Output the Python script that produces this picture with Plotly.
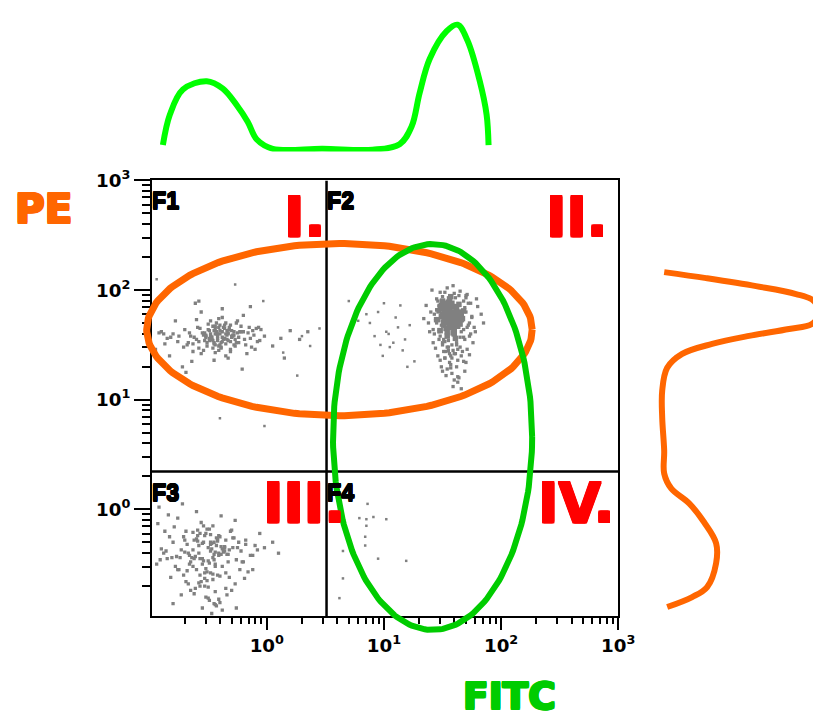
import numpy as np
import plotly.graph_objects as go

# ---------------- data (log10 fluorescence values) ----------------
f1_log_fitc = [-0.42,-0.38,-0.47,-0.35,-0.51,-0.44,-0.30,-0.40,-0.55,-0.33,-0.46,-0.28,-0.39,-0.49,-0.36,-0.43,-0.58,-0.25,-0.41,-0.37,
               -0.45,-0.32,-0.52,-0.27,-0.48,-0.34,-0.40,-0.62,-0.22,-0.44,-0.31,-0.53,-0.38,-0.46,-0.29,-0.57,-0.35,-0.42,-0.50,-0.24,
               -0.66,-0.19,-0.71,-0.15,-0.60,-0.33,-0.75,-0.12,-0.68,-0.20,-0.80,-0.10,-0.64,-0.26,-0.85,-0.08,-0.56,-0.17,-0.90,-0.05,
               -0.47,-0.39,-0.30,-0.54,-0.43,-0.36,-0.49,-0.41,-0.28,-0.59,-0.34,-0.45,-0.38,-0.52,-0.23,-0.63,-0.31,-0.44,-0.37,-0.48,
               -0.72,-0.02,-0.78,0.05,-0.83,-0.14,-0.92,0.12,-0.69,-0.07,-0.87,0.20,-0.61,0.28,-0.74,0.35,-0.95,-0.21,-0.58,0.15,
               -0.36,-0.44,-0.31,-0.48,-0.40,-0.27,-0.52,-0.35,-0.43,-0.38,-0.46,-0.33,-0.41,-0.29,-0.50,-0.37,-0.45,-0.32,-0.42,-0.39,
               -0.34,-0.47,-0.26,-0.53,-0.40,-0.30,-0.44,-0.36,-0.49,-0.28,-0.42,-0.35,-0.54,-0.31,-0.45,-0.38,-0.24,-0.51,-0.41,-0.33,
               -0.60,-0.20,-0.65,-0.18,-0.70,-0.14,-0.58,-0.22,-0.76,-0.11,-0.63,-0.16,-0.82,-0.09,-0.67,-0.25,-0.88,-0.06,-0.56,-0.13]
f1_log_pe = [1.58,1.62,1.55,1.60,1.52,1.65,1.57,1.50,1.61,1.54,1.67,1.59,1.48,1.63,1.56,1.70,1.53,1.61,1.45,1.66,
             1.51,1.64,1.58,1.49,1.72,1.55,1.60,1.57,1.62,1.43,1.68,1.54,1.75,1.47,1.59,1.65,1.40,1.56,1.69,1.52,
             1.61,1.55,1.48,1.66,1.73,1.38,1.58,1.63,1.50,1.77,1.60,1.46,1.35,1.70,1.56,1.53,1.80,1.42,1.62,1.64,
             1.57,1.52,1.63,1.45,1.60,1.68,1.54,1.74,1.50,1.66,1.59,1.36,1.83,1.57,1.62,1.51,1.44,1.67,1.55,1.60,
             1.30,1.58,1.72,1.49,1.40,1.85,1.61,1.56,1.25,1.66,1.51,1.63,1.88,1.55,1.20,1.62,1.46,1.28,1.90,1.38,
             1.56,1.60,1.53,1.58,1.63,1.55,1.59,1.51,1.62,1.57,1.54,1.61,1.49,1.58,1.64,1.55,1.52,1.66,1.60,1.47,
             1.63,1.57,1.52,1.61,1.68,1.58,1.50,1.65,1.56,1.62,1.54,1.70,1.59,1.46,1.63,1.53,1.57,1.49,1.66,1.60,
             1.55,1.62,1.58,1.50,1.64,1.56,1.47,1.67,1.53,1.59,1.44,1.61,1.57,1.65,1.52,1.72,1.60,1.54,1.42,1.48]

f2_core_log_fitc = [1.57,1.52,1.62,1.55,1.60,1.49,1.65,1.54,1.58,1.63,1.51,1.56,1.61,1.47,1.59,1.66,1.53,1.57,1.50,1.64,
                    1.55,1.60,1.48,1.62,1.58,1.52,1.67,1.54,1.59,1.56,1.61,1.50,1.63,1.57,1.53,1.68,1.46,1.60,1.55,1.58,
                    1.62,1.51,1.56,1.64,1.49,1.59,1.54,1.61,1.57,1.52,1.65,1.55,1.60,1.48,1.63,1.58,1.53,1.66,1.56,1.51,
                    1.59,1.62,1.54,1.57,1.50,1.61,1.55,1.64,1.52,1.58]
f2_core_log_pe = [1.78,1.82,1.75,1.70,1.85,1.76,1.80,1.88,1.72,1.79,1.68,1.83,1.74,1.81,1.66,1.77,1.86,1.71,1.90,1.73,
                  1.79,1.64,1.84,1.69,1.76,1.87,1.74,1.62,1.80,1.92,1.71,1.78,1.67,1.85,1.75,1.81,1.73,1.60,1.89,1.77,
                  1.83,1.70,1.66,1.78,1.86,1.72,1.58,1.80,1.94,1.74,1.69,1.82,1.76,1.63,1.79,1.88,1.65,1.75,1.84,1.71,
                  1.61,1.77,1.80,1.68,1.83,1.56,1.73,1.87,1.79,1.70]
f2_halo_log_fitc = [1.40,1.75,1.45,1.72,1.38,1.80,1.43,1.70,1.48,1.78,1.36,1.69,1.50,1.83,1.42,1.74,1.55,1.65,1.46,1.77,
                    1.60,1.52,1.68,1.44,1.73,1.57,1.49,1.63,1.39,1.71,1.54,1.66,1.47,1.76,1.58,1.62,1.51,1.69,1.45,1.64,
                    1.56,1.60,1.53,1.67,1.48,1.59,1.63,1.50,1.70,1.55,1.61,1.44,1.66,1.58,1.52,1.73,1.47,1.62,1.57,1.68,
                    1.34,1.85,1.41,1.79,1.54,1.65,1.59,1.49,1.71,1.63,
                    1.44,1.70,1.47,1.73,1.42,1.68,1.50,1.75,1.45,1.66,1.52,1.71,1.48,1.64,1.43,1.69,1.55,1.62,1.46,1.74,
                    1.58,1.51,1.67,1.49,1.72,1.54,1.63,1.47,1.60,1.53,1.65,1.56,1.61,1.50,1.68,1.57,1.45,1.70,1.59,1.52]
f2_halo_log_pe = [1.80,1.75,1.92,1.68,1.70,1.85,1.60,1.95,1.98,1.62,1.86,1.55,1.50,1.78,1.52,1.88,1.45,1.48,1.40,1.66,
                  1.42,1.38,1.35,1.72,1.58,1.32,1.30,1.36,1.62,1.46,1.28,1.40,1.55,1.52,1.24,1.30,1.44,1.26,1.82,1.20,
                  1.34,1.18,1.22,1.44,1.36,1.12,1.16,1.26,1.34,1.48,1.42,1.47,1.10,1.38,1.53,1.41,1.64,1.50,1.29,1.57,
                  1.74,1.70,2.00,1.92,2.02,1.99,2.04,1.90,1.96,1.21,
                  1.74,1.80,1.86,1.70,1.64,1.90,1.94,1.76,1.82,1.62,1.98,1.66,1.58,1.95,1.78,1.84,1.54,1.52,1.90,1.60,
                  1.50,1.55,1.72,1.68,1.88,1.48,1.46,1.62,1.97,1.44,1.57,1.42,1.93,1.52,1.64,1.40,1.70,1.93,1.45,1.38]
f2_sparse_log_fitc = [0.95,1.02,1.10,0.88,1.18,1.05,0.92,1.14,1.22,0.99,1.08,1.26,0.85,1.12,1.00,1.20,0.78,1.16,1.04,0.97]
f2_sparse_log_pe = [1.80,1.62,1.75,1.70,1.55,1.48,1.58,1.86,1.68,1.40,1.52,1.35,1.78,1.66,1.88,1.30,1.72,1.45,1.60,1.50]

f3_log_fitc = [-0.50,-0.45,-0.58,-0.40,-0.62,-0.48,-0.35,-0.55,-0.43,-0.66,-0.52,-0.38,-0.60,-0.47,-0.31,-0.70,-0.54,-0.42,-0.57,-0.36,
               -0.49,-0.64,-0.44,-0.28,-0.73,-0.51,-0.39,-0.59,-0.46,-0.33,-0.68,-0.53,-0.41,-0.77,-0.25,-0.56,-0.48,-0.37,-0.63,-0.44,
               -0.80,-0.22,-0.85,-0.18,-0.75,-0.30,-0.90,-0.14,-0.82,-0.27,-0.94,-0.10,-0.71,-0.20,-0.88,-0.06,-0.67,-0.16,-0.79,-0.02,
               -0.52,-0.46,-0.40,-0.61,-0.55,-0.34,-0.49,-0.58,-0.43,-0.65,-0.38,-0.50,-0.57,-0.45,-0.32,-0.62,-0.47,-0.53,-0.41,-0.69,
               -0.84,-0.26,-0.92,0.05,-0.76,-0.12,-0.87,0.10,-0.72,-0.19,-0.93,-0.08,-0.60,-0.35,-0.66,-0.44,-0.54,-0.29,-0.81,-0.39,
               -0.48,-0.57,-0.63,-0.42,-0.51,-0.70,-0.36,-0.59,-0.45,-0.23,
               -0.47,-0.55,-0.41,-0.60,-0.50,-0.44,-0.58,-0.38,-0.53,-0.46,-0.63,-0.42,-0.51,-0.36,-0.57,-0.49,-0.67,-0.40,-0.54,-0.45,
               -0.52,-0.43,-0.61,-0.37,-0.56,-0.48,-0.65,-0.34,-0.59,-0.46,-0.50,-0.39,-0.62,-0.44,-0.55,-0.32,-0.68,-0.48,-0.53,-0.41,
               -0.74,-0.29,-0.78,-0.24,-0.71,-0.33,-0.83,-0.21,-0.86,-0.27,-0.76,-0.18,-0.91,-0.30,-0.69,-0.12,-0.80,-0.35,-0.73,-0.26]
f3_log_pe = [-0.35,-0.30,-0.40,-0.25,-0.45,-0.38,-0.28,-0.50,-0.33,-0.42,-0.22,-0.36,-0.55,-0.31,-0.20,-0.39,-0.47,-0.27,-0.60,-0.34,
             -0.18,-0.44,-0.52,-0.26,-0.37,-0.65,-0.41,-0.29,-0.15,-0.48,-0.32,-0.70,-0.24,-0.43,-0.35,-0.12,-0.58,-0.39,-0.21,-0.75,
             -0.30,-0.38,-0.45,-0.28,-0.55,-0.19,-0.36,-0.42,-0.62,-0.10,-0.50,-0.33,-0.25,-0.48,-0.40,-0.22,-0.68,-0.57,-0.16,-0.35,
             -0.80,-0.64,-0.85,-0.72,-0.90,-0.78,-0.83,-0.67,-0.88,-0.74,-0.92,-0.81,-0.70,-0.86,-0.62,-0.77,-0.95,-0.58,-0.82,-0.66,
             -0.05,-0.46,0.02,-0.30,-0.08,-0.55,-0.20,-0.40,0.05,-0.63,-0.13,-0.37,-0.02,-0.72,-0.50,-0.87,-0.15,-0.26,-0.44,-0.06,
             -0.30,-0.45,-0.52,-0.60,-0.18,-0.28,-0.38,-0.24,-0.41,-0.55,
             -0.36,-0.31,-0.42,-0.27,-0.47,-0.39,-0.33,-0.52,-0.24,-0.44,-0.37,-0.29,-0.57,-0.35,-0.22,-0.49,-0.40,-0.61,-0.30,-0.46,
             -0.54,-0.26,-0.43,-0.38,-0.66,-0.32,-0.48,-0.41,-0.19,-0.59,-0.71,-0.34,-0.28,-0.50,-0.45,-0.37,-0.56,-0.23,-0.63,-0.40,
             -0.44,-0.35,-0.52,-0.30,-0.60,-0.41,-0.25,-0.48,-0.38,-0.68,-0.55,-0.32,-0.46,-0.74,-0.20,-0.42,-0.86,-0.58,-0.78,-0.90]

f4_log_fitc = [0.86,0.79,0.85,0.91,0.85,1.02,0.84,0.84,0.65,0.95,1.19,0.65,0.62]
f4_log_pe = [0.05,-0.08,-0.09,-0.07,-0.15,-0.09,-0.25,-0.33,-0.38,-0.45,-0.47,-0.63,-0.81]

other_log_fitc = [0.30,0.37,0.26,0.14,-0.94,-0.27,-0.03,-0.02,-0.40,0.45,0.70]
other_log_pe = [1.58,1.49,1.22,1.43,2.10,2.05,1.90,0.76,0.83,1.65,1.90]

# quadrant gates (log10)
quad_log_fitc = 0.51
quad_log_pe = 0.345

# elliptical gates: centre and semi-axes in log10 units
gate_pe_centre = (0.62, 1.64)
gate_pe_radii = (1.645, 0.786)
gate_fitc_centre = (1.415, 0.66)
gate_fitc_radii = (0.85, 1.76)

# FITC histogram outline (log10 FITC, relative count)
hist_fitc_log = [-0.887,-0.827,-0.716,-0.512,-0.375,-0.256,-0.162,-0.085,0.051,0.477,0.904,1.134,1.236,1.304,1.39,1.535,1.628,1.713,1.816,1.876,1.893]
hist_fitc_count = [7,40,67,76,68,50,32,13,3,3,2,8,27,63,100,130,137,120,77,40,7]

# PE histogram outline (log10 PE, relative count)
hist_pe_log = [2.164,2.109,2.036,1.964,1.9,1.791,1.691,1.645,1.582,1.509,1.418,1.291,1.082,0.836,0.536,0.327,0.191,0.055,-0.118,-0.309,-0.491,-0.709,-0.8,-0.891]
hist_pe_count = [10,52,102,142,160,165,158,135,95,58,28,13,8,8,10,10,17,35,50,62,62,53,38,13]

decade_exps = [0, 1, 2, 3]
decade_labels = ["<b>10<sup>0</sup></b>", "<b>10<sup>1</sup></b>", "<b>10<sup>2</sup></b>", "<b>10<sup>3</sup></b>"]
quadrant_names = ["F1", "F2", "F3", "F4"]
region_names = ["I.", "II.", "III.", "IV."]

# ---------------- layout geometry ----------------
# target positions are given in window pixels; the page shows the figure offset
# by (OX, OY) and scaled by (SX, SY)
OX, OY = 7.8, 19.0
SX, SY = 0.981, 0.985
W = int(round((821 - OX) / SX))
H = int(round((719 - OY) / SY))
REF_RIGHT = OX + W * SX
REF_BOTTOM = OY + H * SY

PL, PR, PT, PB = 152, 619, 179, 616
X_RANGE = [-0.98, 3.0]
Y_RANGE = [-0.973, 3.0]

def fx(px):
    return ((px - OX) / SX) / W

def fy(py):
    return 1 - ((py - OY) / SY) / H

def fs(size):
    return size / SY

dom_x = [fx(PL), fx(PR)]
dom_y = [fy(PB), fy(PT)]

kx = (X_RANGE[1] - X_RANGE[0]) / (PR - PL)
ky = (Y_RANGE[1] - Y_RANGE[0]) / (PB - PT)
ov_x_range = [X_RANGE[0] + (OX - PL) * kx, X_RANGE[0] + (REF_RIGHT - PL) * kx]
ov_y_range = [Y_RANGE[0] - (REF_BOTTOM - PB) * ky, Y_RANGE[1] + (PT - OY) * ky]

def lin(v):
    return [10 ** a for a in v]

GRAY = "#808080"
ORANGE = "#FF6600"
GREEN = "#00CC00"
LIME = "#00FF00"
RED = "#FF0000"

fig = go.Figure()

def dots(xl, yl, size):
    fig.add_trace(go.Scatter(x=lin(xl), y=lin(yl), mode="markers",
                             marker=dict(size=size, color=GRAY, symbol="square", line=dict(width=0)),
                             xaxis="x", yaxis="y", hoverinfo="skip"))

dots(f1_log_fitc, f1_log_pe, 3.3)
dots(f3_log_fitc, f3_log_pe, 3.3)
dots(f2_halo_log_fitc, f2_halo_log_pe, 3.3)
dots(f2_core_log_fitc, f2_core_log_pe, 5.5)
dots(f2_sparse_log_fitc, f2_sparse_log_pe, 2.5)
dots(f4_log_fitc, f4_log_pe, 2.5)
dots(other_log_fitc, other_log_pe, 2.5)

# quadrant lines
fig.add_trace(go.Scatter(x=[10 ** quad_log_fitc] * 2, y=[10 ** Y_RANGE[0], 10 ** Y_RANGE[1]], mode="lines",
                         line=dict(color="black", width=2.5), xaxis="x", yaxis="y", hoverinfo="skip"))
fig.add_trace(go.Scatter(x=[10 ** X_RANGE[0], 10 ** X_RANGE[1]], y=[10 ** quad_log_pe] * 2, mode="lines",
                         line=dict(color="black", width=2.5), xaxis="x", yaxis="y", hoverinfo="skip"))

# histograms
fig.add_trace(go.Scatter(x=lin(hist_fitc_log), y=hist_fitc_count, mode="lines",
                         line=dict(color=LIME, width=6, shape="spline", smoothing=1.0),
                         xaxis="x2", yaxis="y2", hoverinfo="skip"))
fig.add_trace(go.Scatter(x=hist_pe_count, y=lin(hist_pe_log), mode="lines",
                         line=dict(color=ORANGE, width=6, shape="spline", smoothing=1.0),
                         xaxis="x3", yaxis="y3", hoverinfo="skip"))

# elliptical gates on an overlay in log units (not clipped to the plot box)
t = np.linspace(0, 2 * np.pi, 241)
for (cx, cy), (rx, ry), col, lw in [(gate_pe_centre, gate_pe_radii, ORANGE, 7),
                                    (gate_fitc_centre, gate_fitc_radii, GREEN, 6)]:
    fig.add_trace(go.Scatter(x=cx + rx * np.cos(t), y=cy + ry * np.sin(t), mode="lines",
                             line=dict(color=col, width=lw), xaxis="x4", yaxis="y4", hoverinfo="skip"))

minor_vals = [k * 10 ** d for d in range(-1, 3) for k in range(2, 10)]

axis_common = dict(type="log", showgrid=False, zeroline=False, showline=True, linecolor="black",
                   linewidth=2, mirror=True, ticks="outside", tickcolor="black", tickwidth=1.5,
                   tickmode="array", tickvals=[10 ** e for e in decade_exps], ticktext=decade_labels,
                   tickfont=dict(family="DejaVu Sans", size=fs(18), color="black"))

fig.update_layout(
    width=W, height=H, margin=dict(l=0, r=0, t=0, b=0),
    paper_bgcolor="white", plot_bgcolor="rgba(0,0,0,0)", showlegend=False,
    xaxis=dict(**axis_common, domain=dom_x, range=X_RANGE, ticklen=12, anchor="y",
               minor=dict(tickmode="array", tickvals=minor_vals, ticks="outside", ticklen=6,
                          tickcolor="black", tickwidth=1.5)),
    yaxis=dict(**axis_common, domain=dom_y, range=Y_RANGE, ticklen=16, anchor="x",
               minor=dict(tickmode="array", tickvals=minor_vals, ticks="outside", ticklen=8,
                          tickcolor="black", tickwidth=1.5)),
    xaxis2=dict(type="log", domain=dom_x, range=X_RANGE, visible=False, anchor="y2"),
    yaxis2=dict(domain=[fy(150), 1], range=[0, max(hist_fitc_count) + 4], visible=False, anchor="x2"),
    xaxis3=dict(domain=[fx(655), 1], range=[0, REF_RIGHT - 655], visible=False, anchor="y3"),
    yaxis3=dict(type="log", domain=dom_y, range=Y_RANGE, visible=False, anchor="x3"),
    xaxis4=dict(domain=[0, 1], range=ov_x_range, visible=False, anchor="y4"),
    yaxis4=dict(domain=[0, 1], range=ov_y_range, visible=False, anchor="x4"),
)

def heavy(c, d=1):
    offs = [(d, 0), (-d, 0), (0, d), (0, -d), (d, d), (-d, -d), (d, -d), (-d, d)]
    return ", ".join("{}px {}px 0 {}".format(a, b, c) for a, b in offs)

ann = []
for name, (px, py) in zip(quadrant_names, [(150, 201), (325, 201), (150, 493.5), (325, 493.5)]):
    ann.append(dict(text="<b>" + name + "</b>", x=fx(px), y=fy(py - 1), xref="paper", yref="paper",
                    xanchor="left", yanchor="middle", showarrow=False,
                    font=dict(family="Liberation Sans", size=fs(23), color="black", shadow=heavy("black", 0.6))))
for name, (px, py) in zip(region_names, [(305, 215.5), (578, 215.5), (304, 503), (577, 503)]):
    ann.append(dict(text="<b>" + name + "</b>", x=fx(px), y=fy(py), xref="paper", yref="paper",
                    xanchor="center", yanchor="middle", showarrow=False,
                    font=dict(family="DejaVu Sans", size=fs(54), color=RED, shadow=heavy(RED))))
ann.append(dict(text="<b>PE</b>", x=fx(43.5), y=fy(210 - 2), xref="paper", yref="paper", xanchor="center",
                yanchor="middle", showarrow=False,
                font=dict(family="DejaVu Sans", size=fs(40), color=ORANGE, shadow=heavy(ORANGE))))
ann.append(dict(text="<b>FITC</b>", x=fx(510), y=fy(697.5 - 1), xref="paper", yref="paper", xanchor="center",
                yanchor="middle", showarrow=False,
                font=dict(family="DejaVu Sans", size=fs(37), color=GREEN, shadow=heavy(GREEN))))
fig.update_layout(annotations=ann)

fig.write_html("out.html")
